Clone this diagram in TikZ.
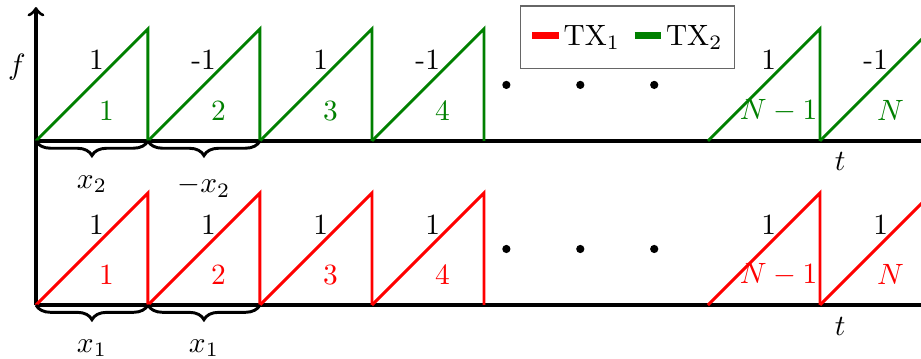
\documentclass[tikz,border=0pt]{standalone}
\usepackage{tikz}
\usetikzlibrary{decorations.pathreplacing,positioning}

\begin{document}
\begin{tikzpicture}[x=1.34cm,y=1.34cm,
  axis/.style={line width=1.1pt},
  ramp/.style={line width=1pt},
  brc/.style={line width=1pt,decorate,decoration={brace,mirror,amplitude=5pt}},
  sgn/.style={text=black,anchor=south east,inner sep=0pt},
  dot/.style={circle,fill,inner sep=0pt,minimum size=2.8pt}]
  \useasboundingbox (-0.321,-0.482) rectangle (7.902,2.723);
  \clip (-0.321,-0.482) rectangle (7.902,2.723);

  % axes
  \coordinate (o1) at (0,0);
  \coordinate (o2) at (0,1.465);
  \coordinate (top) at (0,2.66);
  \draw[axis,->] (o1) -- (top);
  \draw[axis] (o1) -- ++(8.2,0);
  \draw[axis] (o2) -- ++(8.2,0);
  \node (f) at (-0.17,2.125) {$f$};
  \node (t2) at (7.18,1.277) {$t$};
  \node (t1) at (7.18,-0.19) {$t$};

  % upper: TX2
  \foreach \k/\s/\n in {0/1/1,1/-1/2,2/1/3,3/-1/4,6/1/N-1,7/-1/N} {
    \draw[ramp,green!50!black] (\k,1.465) -- node[sgn,pos=0.62] (s2-\k) {\s} ++(1,1) -- ++(0,-1);
    \node[green!50!black] (n2-\k) at (\k+0.63,1.735) {$\n$};
  }
  \draw[brc] (0,1.465) -- node[below=8pt] (b2-1) {$x_2$} (1,1.465);
  \draw[brc] (1,1.465) -- node[below=8pt] (b2-2) {$-x_2$} (2,1.465);

  % lower: TX1
  \foreach \k/\n in {0/1,1/2,2/3,3/4,6/N-1,7/N} {
    \draw[ramp,red] (\k,0) -- node[sgn,pos=0.62] (s1-\k) {1} ++(1,1) -- ++(0,-1);
    \node[red] (n1-\k) at (\k+0.63,0.27) {$\n$};
  }
  \draw[brc] (0,0) -- node[below=8pt] (b1-1) {$x_1$} (1,0);
  \draw[brc] (1,0) -- node[below=8pt] (b1-2) {$x_1$} (2,0);

  % dots
  \foreach \x in {4.2,4.86,5.52} {
    \node[dot] (d1-\x) at (\x,0.5) {};
    \node[dot] (d2-\x) at (\x,1.965) {};
  }

  % legend
  \node[draw=black!60,fill=white,inner xsep=4pt,inner ysep=6.5pt] (legend) at (5.28,2.39)
    {\textcolor{red}{\rule[2pt]{9pt}{2.4pt}}\,TX$_1$\,
     \textcolor{green!50!black}{\rule[2pt]{9pt}{2.4pt}}\,TX$_2$\hspace{2pt}};
\end{tikzpicture}
\end{document}
